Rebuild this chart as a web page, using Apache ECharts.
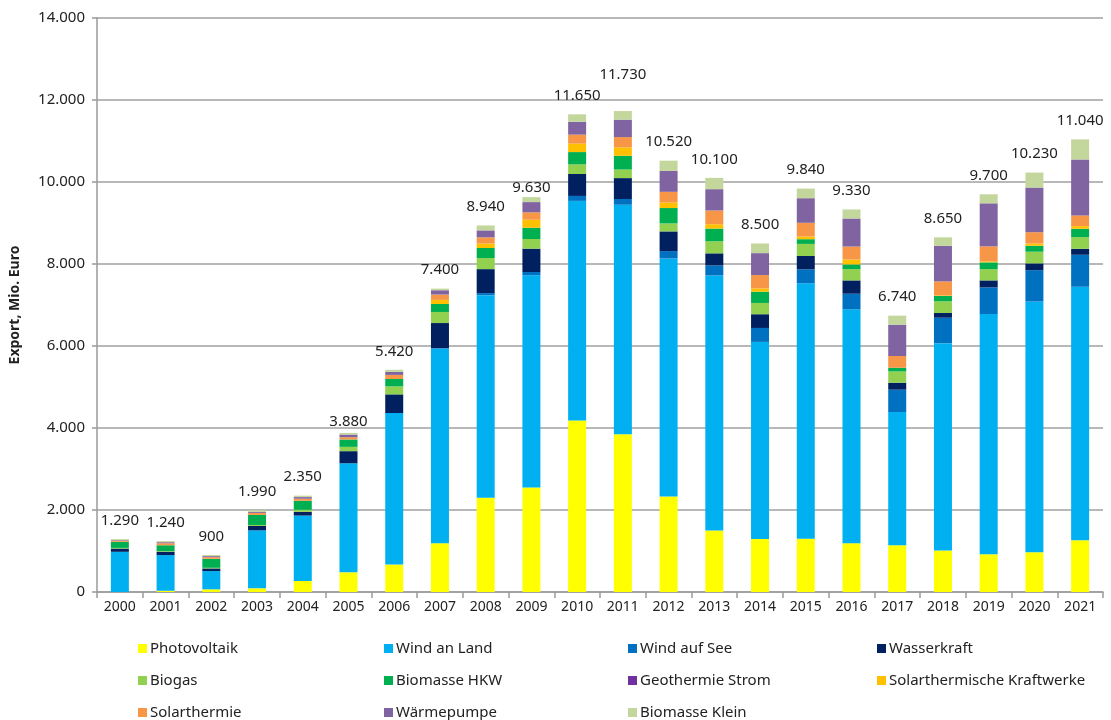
<!DOCTYPE html>
<html>
<head>
<meta charset="utf-8">
<script src="https://cdn.jsdelivr.net/npm/echarts@6/dist/echarts.min.js"></script>
<style>html,body{margin:0;padding:0;background:#fff}#c{width:1111px;height:720px}</style>
</head>
<body>
<div id="c"></div>
<script>
const years = ['2000','2001','2002','2003','2004','2005','2006','2007','2008','2009','2010','2011','2012','2013','2014','2015','2016','2017','2018','2019','2020','2021'];
const totals = [1290,1240,900,1990,2350,3880,5420,7400,8940,9630,11650,11730,10520,10100,8500,9840,9330,6740,8650,9700,10230,11040];
const photovoltaik = [0,30,65,90,270,480,670,1190,2300,2550,4180,3850,2330,1500,1290,1300,1190,1140,1010,920,970,1260];
const windAnLand = [980,870,445,1415,1595,2660,3695,4745,4940,5175,5360,5595,5805,6220,4810,6230,5705,3250,5060,5860,6115,6185];
const windAufSee = [0,0,0,0,0,0,0,15,50,80,120,140,180,245,340,340,380,545,620,650,765,780];
const wasserkraft = [80,80,65,105,90,295,455,610,585,570,535,510,480,295,335,325,325,170,115,170,165,145];
const biogas = [15,15,15,25,50,105,195,270,270,235,235,210,195,295,275,295,275,275,285,275,285,285];
const biomasseHKW = [150,145,220,245,220,180,180,195,245,275,300,335,375,310,275,115,115,90,130,165,145,205];
const geothermieStrom = [0,0,0,0,0,0,0,0,0,0,0,0,0,0,0,0,0,0,0,0,0,0];
const solarthermKW = [0,0,0,0,0,0,0,100,110,195,205,205,135,105,80,65,120,0,15,25,55,65];
const solarthermie = [30,50,40,50,50,55,100,130,150,180,220,250,260,335,325,335,315,285,340,365,275,260];
const waermepumpe = [15,25,25,25,40,65,75,105,170,250,315,425,510,520,535,600,685,765,870,1050,1090,1365];
const biomasseKlein = [20,25,25,35,35,40,50,40,120,120,180,210,250,275,235,235,220,220,205,220,365,490];
const yTicks = [0,2000,4000,6000,8000,10000,12000,14000];

const seriesDefs = [
  ['Photovoltaik', photovoltaik, '#FFFF00'],
  ['Wind an Land', windAnLand, '#00B0F0'],
  ['Wind auf See', windAufSee, '#0070C0'],
  ['Wasserkraft', wasserkraft, '#002060'],
  ['Biogas', biogas, '#92D050'],
  ['Biomasse HKW', biomasseHKW, '#00B050'],
  ['Geothermie Strom', geothermieStrom, '#7030A0'],
  ['Solarthermische Kraftwerke', solarthermKW, '#FFC000'],
  ['Solarthermie', solarthermie, '#F79646'],
  ['Wärmepumpe', waermepumpe, '#8064A2'],
  ['Biomasse Klein', biomasseKlein, '#C3D69B']
];

const fmt = v => String(v).replace(/\B(?=(\d{3})+(?!\d))/g, '.');
const labelDist = {'2005': 4, '2009': 2, '2011': 29};
const FONT = 'Noto Sans';

const series = seriesDefs.map(([name, data, color], si) => {
  const s = {
    name, type: 'bar', stack: 'total', barWidth: 18,
    itemStyle: {color},
    emphasis: {disabled: true},
    data: data.slice()
  };
  if (si === seriesDefs.length - 1) {
    s.data = data.map((v, i) => ({
      value: v,
      label: {
        show: true, position: 'top',
        distance: labelDist[years[i]] !== undefined ? labelDist[years[i]] : 11,
        formatter: () => fmt(totals[i]),
        fontFamily: FONT, fontSize: 15, color: '#222'
      }
    }));
  }
  return s;
});

const cols = [
  ['Photovoltaik','Biogas','Solarthermie'],
  ['Wind an Land','Biomasse HKW','Wärmepumpe'],
  ['Wind auf See','Geothermie Strom','Biomasse Klein'],
  ['Wasserkraft','Solarthermische Kraftwerke']
];
const colLeft = [138, 384, 628, 877];
const legends = cols.map((names, ci) => ({
  data: names, orient: 'vertical', left: colLeft[ci], top: 641, height: 79,
  padding: 0,
  itemWidth: 9, itemHeight: 9, itemGap: 17, icon: 'rect',
  selectedMode: false,
  textStyle: {fontFamily: FONT, fontSize: 15, color: '#222', padding: [0,0,0,-2]}
}));

const chart = echarts.init(document.getElementById('c'), null, {renderer: 'canvas'});
chart.setOption({
  animation: false,
  backgroundColor: '#fff',
  grid: {left: 97, right: 8, top: 18, bottom: 128},
  legend: legends,
  xAxis: {
    type: 'category', data: years,
    axisLine: {lineStyle: {color: '#9a9a9a', width: 1.5}},
    axisTick: {show: true, length: 6, lineStyle: {color: '#9a9a9a', width: 1.5}},
    axisLabel: {fontFamily: FONT, fontSize: 14, color: '#222', margin: 8}
  },
  yAxis: {
    type: 'value', min: yTicks[0], max: yTicks[yTicks.length-1], interval: yTicks[1]-yTicks[0],
    name: 'Export, Mio. Euro', nameLocation: 'middle', nameGap: 75, nameRotate: 90,
    nameTextStyle: {fontFamily: FONT, fontSize: 14, fontWeight: 'bold', color: '#222'},
    axisLine: {show: true, lineStyle: {color: '#9a9a9a', width: 1.5}},
    axisTick: {show: true, length: 5, lineStyle: {color: '#9a9a9a', width: 1.5}},
    axisLabel: {fontFamily: FONT, fontSize: 15, color: '#222', margin: 12, formatter: v => fmt(v)},
    splitLine: {lineStyle: {color: '#a0a0a0', width: 1.5}}
  },
  series
});
</script>
</body>
</html>
